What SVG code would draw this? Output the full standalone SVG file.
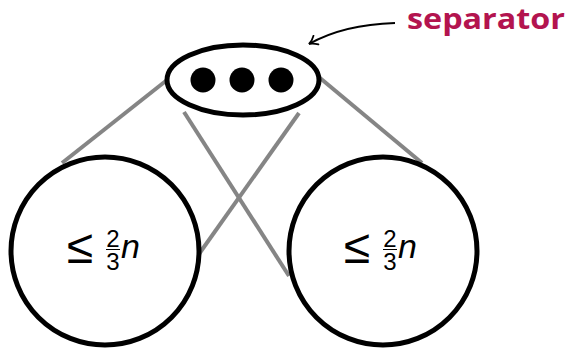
<svg xmlns="http://www.w3.org/2000/svg" width="573" height="349" viewBox="0 0 573 349">
<style>
.edge{stroke:#858585;stroke-width:4;fill:none}
.node{fill:#fff;stroke:#000;stroke-width:5}
.dot{fill:#000}
.m{font-family:"Liberation Sans","DejaVu Sans",sans-serif;fill:#000}
.le{font-family:"Liberation Sans","DejaVu Sans",sans-serif;fill:#000}
.lab{font-family:"Open Sans","Liberation Sans",sans-serif;font-weight:bold;fill:#B3144F}
</style>
<defs>
<marker id="ah" viewBox="0 0 12 12" refX="10" refY="6" markerWidth="12" markerHeight="12" markerUnits="userSpaceOnUse" orient="auto">
<path d="M2,1 Q6,5 10,6 Q6,7 2,11" fill="none" stroke="#000" stroke-width="1.8" stroke-linecap="round"/>
</marker>
</defs>
<g id="connectors">
<line class="edge" x1="167" y1="80" x2="62" y2="163"/>
<line class="edge" x1="320" y1="78" x2="422" y2="163"/>
<line class="edge" x1="184" y1="112" x2="289" y2="276"/>
<line class="edge" x1="299" y1="113" x2="199" y2="254"/>
<path d="M395,23 C362,24 332,31 309,44" fill="none" stroke="#000" stroke-width="2" marker-end="url(#ah)"/>
</g>
<g id="separator">
<ellipse class="node" cx="243" cy="80" rx="76" ry="35"/>
<circle class="dot" cx="203" cy="80" r="12.5"/>
<circle class="dot" cx="242" cy="80" r="12.5"/>
<circle class="dot" cx="281" cy="80" r="12.5"/>
</g>
<g id="left">
<circle class="node" cx="105" cy="251" r="94"/>
<text class="le" x="80" y="263" font-size="48" text-anchor="middle">≤</text>
<text class="m" font-size="24" text-anchor="middle"><tspan x="113" y="247">2</tspan><tspan x="113" y="270">3</tspan></text>
<line x1="106" y1="249.5" x2="120" y2="249.5" stroke="#000" stroke-width="1"/>
<text class="m" x="121" y="258" font-size="34" font-style="italic">n</text>
</g>
<g id="right">
<circle class="node" cx="383" cy="251" r="94"/>
<text class="le" x="357" y="263" font-size="48" text-anchor="middle">≤</text>
<text class="m" font-size="24" text-anchor="middle"><tspan x="390" y="247">2</tspan><tspan x="390" y="270">3</tspan></text>
<line x1="383" y1="249.5" x2="397" y2="249.5" stroke="#000" stroke-width="1"/>
<text class="m" x="398" y="258" font-size="34" font-style="italic">n</text>
</g>
<g id="label">
<text class="lab" x="407" y="29" font-size="28" textLength="158" lengthAdjust="spacingAndGlyphs">separator</text>
</g>
</svg>
